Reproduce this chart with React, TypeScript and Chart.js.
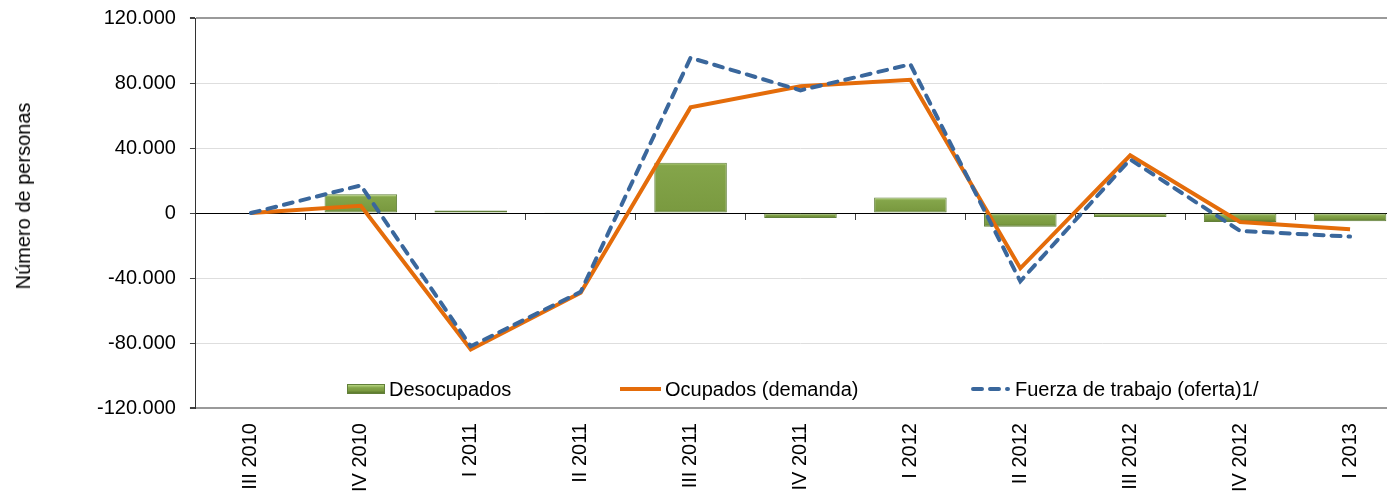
import React, { useEffect, useRef } from "react";
import { Chart, registerables } from "chart.js";

Chart.register(...registerables);

const categories = ["III 2010", "IV 2010", "I 2011", "II 2011", "III 2011", "IV 2011", "I 2012", "II 2012", "III 2012", "IV 2012", "I 2013"];
const desocupados = [0, 11500, 1500, 500, 31000, -3000, 9500, -8500, -2500, -5500, -5000];
const ocupados = [0, 4500, -84000, -49000, 65000, 78000, 82000, -34000, 35500, -5500, -10000];
const fuerzaTrabajo = [0, 17000, -82000, -48500, 95500, 75500, 91500, -42000, 33000, -11000, -14500];
const yTicks = [-120000, -80000, -40000, 0, 40000, 80000, 120000];
const seriesNames = ["Desocupados", "Ocupados (demanda)", "Fuerza de trabajo (oferta)1/"];
const yTitle = "Número de personas";

const FONT = "'Liberation Sans', Arial, Helvetica, sans-serif";
const ORANGE = "#e46c0a";
const BLUE = "#3a679c";

function fmt(v: number): string {
  const s = Math.abs(v).toString().replace(/\B(?=(\d{3})+(?!\d))/g, ".");
  return (v < 0 ? "-" : "") + s;
}

export default function App() {
  const ref = useRef<HTMLCanvasElement>(null);

  useEffect(() => {
    const canvas = ref.current;
    if (!canvas) return;
    const chart = new Chart(canvas, {
      type: "bar",
      data: {
        labels: categories,
        datasets: [
          {
            type: "bar",
            label: seriesNames[0],
            data: desocupados,
            order: 3,
            backgroundColor: (ctx: any) => {
              const ch = ctx.chart;
              const y = ch.scales && ch.scales.y;
              if (!y || ctx.type !== "data") return "#7f9f45";
              const v = ctx.raw as number;
              const p0 = y.getPixelForValue(0);
              const p1 = y.getPixelForValue(v);
              const top = Math.min(p0, p1);
              const bot = Math.max(p0, p1);
              const h = Math.max(bot - top, 1);
              if (!isFinite(top) || !isFinite(bot)) return "#7f9f45";
              const g = ch.ctx.createLinearGradient(0, top, 0, bot + 0.01);
              const a = Math.min(0.4, 3 / h);
              g.addColorStop(0, "#b7d681");
              g.addColorStop(a, "#84a54a");
              g.addColorStop(Math.max(a, 1 - a), "#7a9a40");
              g.addColorStop(1, "#5a772c");
              return g;
            },
            borderColor: "#62803a",
            borderWidth: 1,
            borderSkipped: false,
            barPercentage: 0.66,
            categoryPercentage: 1,
          } as any,
          {
            type: "line",
            label: seriesNames[1],
            data: ocupados,
            order: 2,
            borderColor: ORANGE,
            backgroundColor: ORANGE,
            borderWidth: 4,
            pointRadius: 0,
            tension: 0,
            borderJoinStyle: "miter",
            fill: false,
          } as any,
          {
            type: "line",
            label: seriesNames[2],
            data: fuerzaTrabajo,
            order: 1,
            borderColor: BLUE,
            backgroundColor: BLUE,
            borderWidth: 4,
            borderDash: [9, 8],
            borderCapStyle: "round",
            pointRadius: 0,
            tension: 0,
            fill: false,
          } as any,
        ],
      },
      options: {
        responsive: false,
        animation: false,
        devicePixelRatio: 1,
        layout: { padding: { left: 83, top: 9, right: 5, bottom: 5 } },
        plugins: {
          legend: { display: false },
          tooltip: { enabled: false },
          title: { display: false },
        },
        scales: {
          x: {
            type: "category",
            offset: true,
            grid: { display: false, drawTicks: false, offset: true },
            border: { display: false },
            ticks: {
              minRotation: 90,
              maxRotation: 90,
              autoSkip: false,
              padding: 15,
              color: "#000",
              font: { size: 20, family: FONT },
            },
          },
          x2: {
            type: "category",
            labels: categories,
            offset: true,
            position: { y: 0 },
            grid: {
              display: true,
              drawOnChartArea: false,
              drawTicks: true,
              tickLength: 6,
              offset: true,
              tickColor: "#404040",
              tickWidth: 1,
            },
            ticks: { display: false },
            border: { display: true, color: "#000", width: 1 },
          },
          y: {
            type: "linear",
            min: -120000,
            max: 120000,
            afterBuildTicks: (s: any) => {
              s.ticks = yTicks.map((v) => ({ value: v }));
            },
            grid: {
              color: (c: any) => {
                const v = c.tick ? c.tick.value : null;
                if (v === 0) return "#000";
                if (v === 120000 || v === -120000) return "#9a9a9a";
                return "#dedede";
              },
              lineWidth: (c: any) => {
                const v = c.tick ? c.tick.value : null;
                if (v === 120000 || v === -120000) return 2;
                return 1;
              },
              drawTicks: true,
              tickLength: 6,
              tickColor: "#404040",
            },
            border: { display: true, color: "#333", width: 1 },
            ticks: {
              padding: 14,
              color: "#000",
              font: { size: 20, family: FONT },
              callback: (v: any) => fmt(Number(v)),
            },
          },
        } as any,
      },
    });
    return () => chart.destroy();
  }, []);

  const textStyle: React.CSSProperties = {
    position: "absolute",
    fontFamily: FONT,
    fontSize: 20,
    lineHeight: "20px",
    color: "#000",
    whiteSpace: "nowrap",
  };

  return (
    <div
      style={{
        position: "fixed",
        left: 0,
        top: 0,
        width: 1387,
        height: 494,
        overflow: "hidden",
        background: "#fff",
      }}
    >
      <canvas ref={ref} width={1410} height={520} style={{ display: "block", position: "absolute", left: 0, top: -8 }} />
      <div
        style={{
          ...textStyle,
          left: 23,
          top: 196,
          transform: "translate(-50%, -50%) rotate(-90deg)",
        }}
      >
        {yTitle}
      </div>
      {/* legend */}
      <div
        style={{
          position: "absolute",
          left: 347,
          top: 384,
          width: 36,
          height: 8,
          border: "1px solid #62803a",
          background: "linear-gradient(#b7d681 0%, #84a54a 35%, #7a9a40 70%, #5a772c 100%)",
        }}
      />
      <div style={{ ...textStyle, left: 389, top: 379 }}>{seriesNames[0]}</div>
      <div style={{ position: "absolute", left: 620, top: 387, width: 41, height: 4, background: ORANGE }} />
      <div style={{ ...textStyle, left: 665, top: 379 }}>{seriesNames[1]}</div>
      <svg style={{ position: "absolute", left: 968, top: 383 }} width={46} height={12}>
        <line x1={5} y1={6} x2={40} y2={6} stroke={BLUE} strokeWidth={4} strokeDasharray="9 8" strokeLinecap="round" />
      </svg>
      <div style={{ ...textStyle, left: 1015, top: 379 }}>{seriesNames[2]}</div>
    </div>
  );
}
